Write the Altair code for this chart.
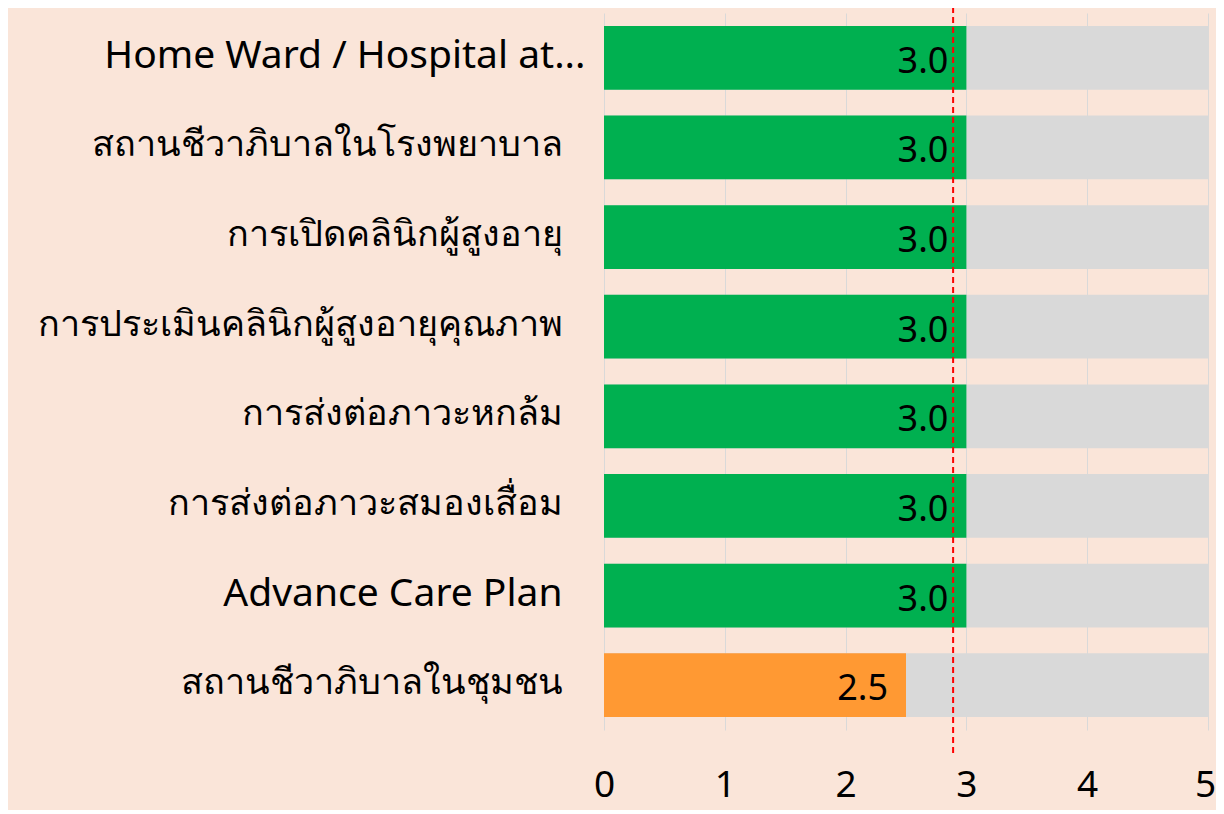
import altair as alt
import pandas as pd

categories = [
    "Home Ward / Hospital at...",
    "สถานชีวาภิบาลในโรงพยาบาล",
    "การเปิดคลินิกผู้สูงอายุ",
    "การประเมินคลินิกผู้สูงอายุคุณภาพ",
    "การส่งต่อภาวะหกล้ม",
    "การส่งต่อภาวะสมองเสื่อม",
    "Advance Care Plan",
    "สถานชีวาภิบาลในชุมชน",
]
scores = [3.0, 3.0, 3.0, 3.0, 3.0, 3.0, 3.0, 2.5]
colors = ["#00B050", "#00B050", "#00B050", "#00B050", "#00B050", "#00B050", "#00B050", "#FF9933"]
max_score = 5
average_line = 2.89

df = pd.DataFrame({
    "cat": categories,
    "score": scores,
    "color": colors,
    "max": [max_score] * len(categories),
    "label": [f"{v:.1f}" for v in scores],
})
avg_df = pd.DataFrame({"avg": [average_line]})

FONT = "Noto Sans"
latin_test = "datum.value == 'Home Ward / Hospital at...' || datum.value == 'Advance Care Plan'"

y_enc = alt.Y("cat:N", sort=None, title=None,
              scale=alt.Scale(paddingInner=0.29, paddingOuter=0.145),
              axis=alt.Axis(
                  labelFontSize={"condition": {"test": latin_test, "value": 39}, "value": 36},
                  labelPadding={"condition": {"test": "datum.value == 'Home Ward / Hospital at...'", "value": 19}, "value": 42},
                  labelColor="#000000", ticks=False, domain=False, grid=False,
                  labelLimit=0, labelFont=FONT, labelOffset=-2))
x_scale = alt.Scale(domain=[0, 5], nice=False)
x_axis = alt.Axis(values=[0, 1, 2, 3, 4, 5], format="d", labelFontSize=37, labelColor="#000000",
                  labelPadding=37, ticks=False, domain=False, grid=True,
                  labelOffset={"condition": {"test": "datum.value == 5", "value": -3}, "value": 0},
                  gridColor="#D9D9D9", gridWidth=1, labelFont=FONT, labelFlush=False)

base = alt.Chart(df)

bg = base.mark_bar(color="#D9D9D9").encode(
    y=y_enc,
    x=alt.X("max:Q", scale=x_scale, axis=x_axis, title=None),
)
bars = base.mark_bar().encode(
    y=alt.Y("cat:N", sort=None),
    x=alt.X("score:Q"),
    color=alt.Color("color:N", scale=None, legend=None),
)
text = base.mark_text(align="right", baseline="middle", dx=-18, dy=4, fontSize=36,
                      color="#000000", font=FONT).encode(
    y=alt.Y("cat:N", sort=None),
    x=alt.X("score:Q"),
    text="label:N",
)
rule = alt.Chart(avg_df).mark_rule(color="#FF0000", strokeDash=[6, 4], strokeWidth=2).encode(
    x=alt.X("avg:Q"),
    y=alt.value(-6),
    y2=alt.value(744),
)

chart = alt.layer(bg, bars, text, rule).properties(
    width=604,
    height=717,
    background="#FAE5D9",
    autosize=alt.AutoSizeParams(type="none"),
    padding={"left": 596, "top": 5, "right": 8, "bottom": 80},
).configure_view(stroke=None)

chart.save("out.html", embed_options={"renderer": "svg", "actions": False})
